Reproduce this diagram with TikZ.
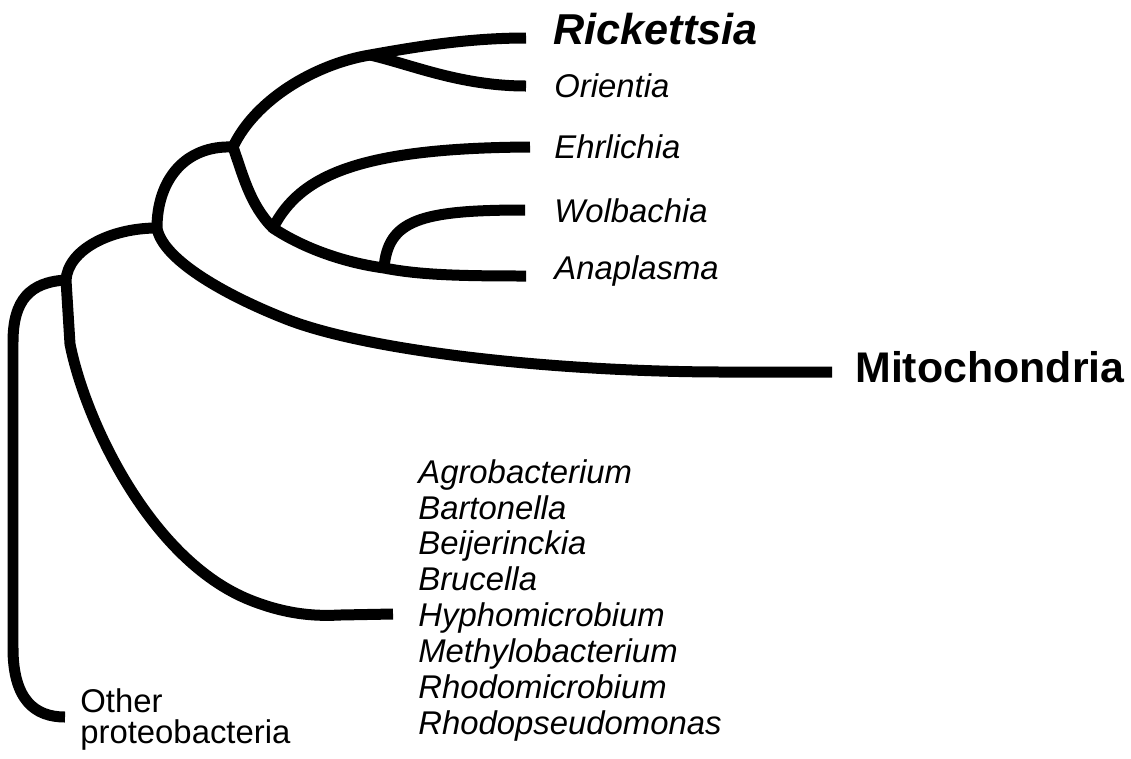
\documentclass[tikz,border=0pt]{standalone}
\usepackage{fontspec}
\setmainfont{Liberation Sans}
\tikzstyle{branch} = [line width=0.22cm, line cap=butt, line join=round]
\tikzstyle{taxon} = [anchor=base west, inner sep=0pt, font=\itshape\fontsize{18.7}{22}\selectfont]
\tikzstyle{group} = [anchor=north west, inner sep=0pt, align=left]

\begin{document}
\begin{tikzpicture}[x=0.02cm, y=-0.02cm]
\useasboundingbox (0,0) rectangle (1131,758);
% junctions
\coordinate (root) at (66,280);
\coordinate (alpha) at (157,228);
\coordinate (rick) at (233,147);
\coordinate (ro) at (370,55);
\coordinate (anap) at (273,228);
\coordinate (wa) at (384,268);
% tips
\coordinate (tRick) at (526,38);
\coordinate (tOri) at (526,86);
\coordinate (tEhr) at (530,147);
\coordinate (tWol) at (525,210);
\coordinate (tAnap) at (526,276);
\coordinate (tMito) at (832,372);
\coordinate (tBart) at (393,614);
\coordinate (tProteo) at (65,717);

% labels
\node[taxon, font=\bfseries\itshape\fontsize{24.6}{28}\selectfont] (lRick) at (553,44) {Rickettsia};
\node[taxon] (lOri) at (554,97) {Orientia};
\node[taxon] (lEhr) at (554,158) {Ehrlichia};
\node[taxon] (lWol) at (554,222) {Wolbachia};
\node[taxon] (lAnap) at (554,279) {Anaplasma};
\node[taxon, font=\bfseries\fontsize{24.4}{28}\selectfont] (lMito) at (855,382) {Mitochondria};
\node[group, font=\itshape\fontsize{18.7}{20.4}\selectfont] (lBart) at (418,459) {Agrobacterium\\Bartonella\\Beijerinckia\\Brucella\\Hyphomicrobium\\Methylobacterium\\Rhodomicrobium\\Rhodopseudomonas};
\node[group, font=\fontsize{18.7}{17.6}\selectfont] (lProteo) at (80,688) {Other\\proteobacteria};

% branches
\draw[branch] (rick) .. controls (255,100) and (315,64) .. (ro) .. controls (420,46) and (470,38) .. (tRick);
\draw[branch] (ro) .. controls (410,64) and (460,86) .. (tOri);
\draw[branch] (rick) .. controls (243,175) and (250,205) .. (anap) .. controls (300,246) and (340,262) .. (wa) .. controls (420,275) and (460,276) .. (tAnap);
\draw[branch] (anap) .. controls (300,175) and (360,148) .. (tEhr);
\draw[branch] (wa) .. controls (388,220) and (420,210) .. (tWol);
\draw[branch] (rick) .. controls (185,145) and (157,180) .. (alpha) .. controls (162,258) and (220,293) .. (286,319) .. controls (370,352) and (560,372) .. (725,372) -- (tMito);
\draw[branch] (alpha) .. controls (110,228) and (68,250) .. (root) -- (70,344) .. controls (85,420) and (150,560) .. (250,600) .. controls (290,616) and (320,616) .. (340,615) -- (tBart);
\draw[branch] (root) .. controls (30,282) and (13,300) .. (13,342) -- (13,648) .. controls (13,700) and (35,717) .. (tProteo);
\end{tikzpicture}
\end{document}
